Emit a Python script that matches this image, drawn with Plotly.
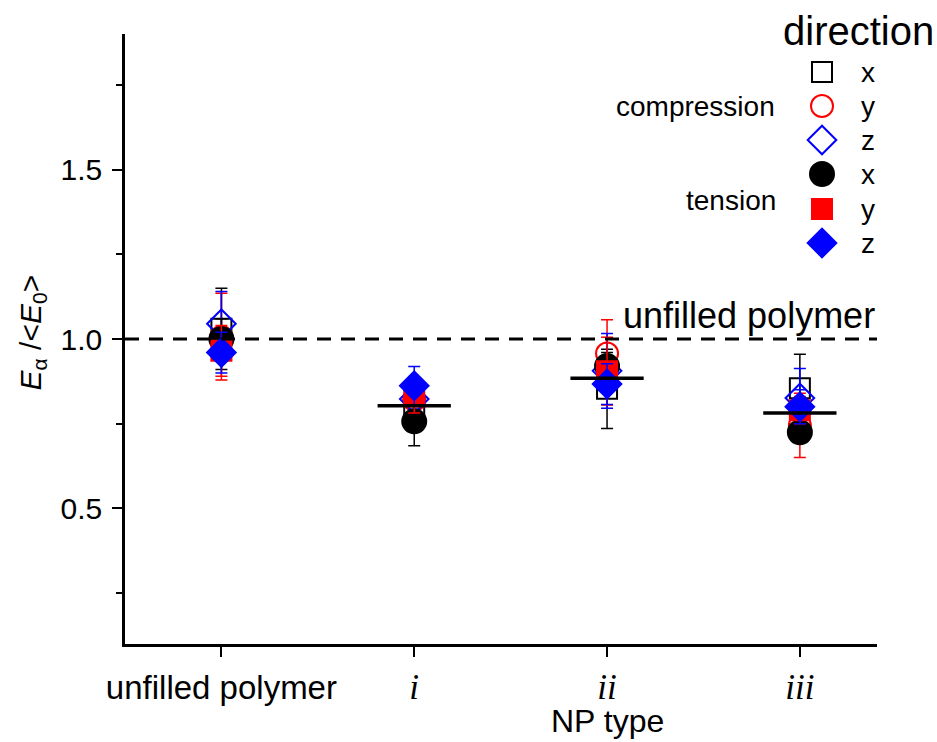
import plotly.graph_objects as go

# ---------------- data ----------------
categories = [1, 2, 3, 4]
tick_labels = ["unfilled polymer", "i", "ii", "iii"]

comp_x = [1.03, 0.80, 0.853, 0.855]
comp_x_err = [0.12, 0.03, 0.117, 0.10]
comp_y = [1.007, 0.82, 0.957, 0.745]
comp_y_err = [0.128, 0.03, 0.10, 0.095]
comp_z = [1.045, 0.823, 0.906, 0.826]
comp_z_err = [0.095, 0.03, 0.11, 0.087]

ten_x = [1.00, 0.757, 0.92, 0.725]
ten_x_err = [0.06, 0.072, 0.04, 0.025]
ten_y = [0.965, 0.83, 0.905, 0.79]
ten_y_err = [0.075, 0.048, 0.10, 0.04]
ten_z = [0.96, 0.862, 0.867, 0.80]
ten_z_err = [0.06, 0.057, 0.06, 0.05]

mean_cats = [2, 3, 4]
mean_vals = [0.803, 0.884, 0.782]
reference_value = 1.0

# ---------------- style ----------------
FONT = "Liberation Sans, Arial, sans-serif"
SERIF = "Liberation Serif, Times New Roman, serif"
BLACK, RED, BLUE = "#000000", "#ff0000", "#0000ff"

series = [
    ("comp x", comp_x, comp_x_err, "square-open", 20, BLACK),
    ("comp y", comp_y, comp_y_err, "circle-open", 22, RED),
    ("comp z", comp_z, comp_z_err, "diamond-open", 22, BLUE),
    ("ten x", ten_x, ten_x_err, "circle", 24, BLACK),
    ("ten y", ten_y, ten_y_err, "square", 20, RED),
    ("ten z", ten_z, ten_z_err, "diamond", 22, BLUE),
]

fig = go.Figure()

for name, vals, errs, sym, size, col in series:
    fig.add_trace(go.Scatter(
        x=categories, y=vals, mode="markers", name=name, showlegend=False,
        marker=dict(symbol=sym, size=size, color=col, line=dict(color=col, width=2)),
        error_y=dict(type="data", array=errs, visible=True, color=col, thickness=1.5, width=6),
        cliponaxis=False,
    ))

# mean bars
HALF = 0.19
for c, m in zip(mean_cats, mean_vals):
    fig.add_trace(go.Scatter(
        x=[c - HALF, c + HALF], y=[m, m], mode="lines", showlegend=False,
        line=dict(color=BLACK, width=3.5),
    ))

# reference dashed line
fig.add_shape(type="line", xref="paper", x0=0, x1=1, yref="y", y0=reference_value, y1=reference_value,
              line=dict(color=BLACK, width=3, dash="14px,10px"))
fig.add_annotation(x=4.4, xref="x", y=reference_value, yref="y", text="unfilled polymer",
                   showarrow=False, xanchor="right", yanchor="bottom", yshift=1,
                   font=dict(family=FONT, size=36, color=BLACK))

# ---------------- manual legend (pixel-like overlay axes) ----------------
PLOT_TOP, PLOT_BOTTOM = 34, 644
leg_x = 822
leg_rows = [72, 106, 140, 174, 209, 243]
leg_labels = ["x", "y", "z", "x", "y", "z"]
for (name, vals, errs, sym, size, col), ry in zip(series, leg_rows):
    fig.add_trace(go.Scatter(
        x=[leg_x], y=[ry], xaxis="x2", yaxis="y2", mode="markers", showlegend=False,
        marker=dict(symbol=sym, size=size, color=col, line=dict(color=col, width=2)),
        cliponaxis=False, hoverinfo="skip",
    ))
for lab, ry in zip(leg_labels, leg_rows):
    fig.add_annotation(x=859, y=ry, xref="x2", yref="y2", text=lab, showarrow=False,
                       xanchor="left", yanchor="middle", font=dict(family=FONT, size=28, color=BLACK))
fig.add_annotation(x=777, y=106, xref="x2", yref="y2", text="compression", showarrow=False,
                   xanchor="right", yanchor="middle", font=dict(family=FONT, size=28, color=BLACK))
fig.add_annotation(x=778, y=200, xref="x2", yref="y2", text="tension", showarrow=False,
                   xanchor="right", yanchor="middle", font=dict(family=FONT, size=28, color=BLACK))
fig.add_annotation(x=858, y=(PLOT_BOTTOM - 31) / (PLOT_BOTTOM - PLOT_TOP), xref="x2", yref="paper",
                   text="direction", showarrow=False, xanchor="center", yanchor="middle",
                   font=dict(family=FONT, size=40, color=BLACK))

# axis titles
fig.add_annotation(x=-0.123, xref="paper", y=0.51, yref="paper", textangle=-90,
                   xanchor="center", yanchor="middle",
                   text="<i>E</i><sub>α</sub> /&lt;<i>E</i><sub>0</sub>&gt;", showarrow=False,
                   font=dict(family=FONT, size=30, color=BLACK))
fig.add_annotation(x=3, xref="x", y=-0.126, yref="paper", text="NP type", showarrow=False,
                   yanchor="middle", font=dict(family=FONT, size=32, color=BLACK))

ticktext = [f"<span style='font-size:33px'>{tick_labels[0]}</span>"] + [
    f"<span style='font-family:{SERIF};font-size:35px'><i>{t}</i></span>" for t in tick_labels[1:]
]

fig.update_layout(
    width=937, height=742,
    margin=dict(l=125, r=60, t=PLOT_TOP, b=742 - PLOT_BOTTOM),
    paper_bgcolor="white", plot_bgcolor="white",
    font=dict(family=FONT, size=30, color=BLACK),
    showlegend=False,
    xaxis=dict(range=[0.5, 4.4], showline=True, linecolor=BLACK, linewidth=2.5,
               ticks="outside", ticklen=10, tickwidth=2, tickcolor=BLACK,
               tickvals=categories, ticktext=ticktext, showgrid=False, zeroline=False,
               ticklabelstandoff=6),
    yaxis=dict(range=[0.1, 1.9], showline=True, linecolor=BLACK, linewidth=2.5,
               ticks="outside", ticklen=10, tickwidth=2, tickcolor=BLACK,
               tickvals=[0.5, 1.0, 1.5], ticktext=["0.5", "1.0", "1.5"],
               tickfont=dict(size=30), showgrid=False, zeroline=False, ticklabelstandoff=4,
               minor=dict(tickvals=[0.25, 0.75, 1.25, 1.75], ticks="outside", ticklen=6,
                          tickwidth=2, tickcolor=BLACK, showgrid=False)),
    xaxis2=dict(overlaying="x", range=[125, 877], visible=False),
    yaxis2=dict(overlaying="y", range=[PLOT_BOTTOM, PLOT_TOP], visible=False),
)

fig.write_html("out.html")
